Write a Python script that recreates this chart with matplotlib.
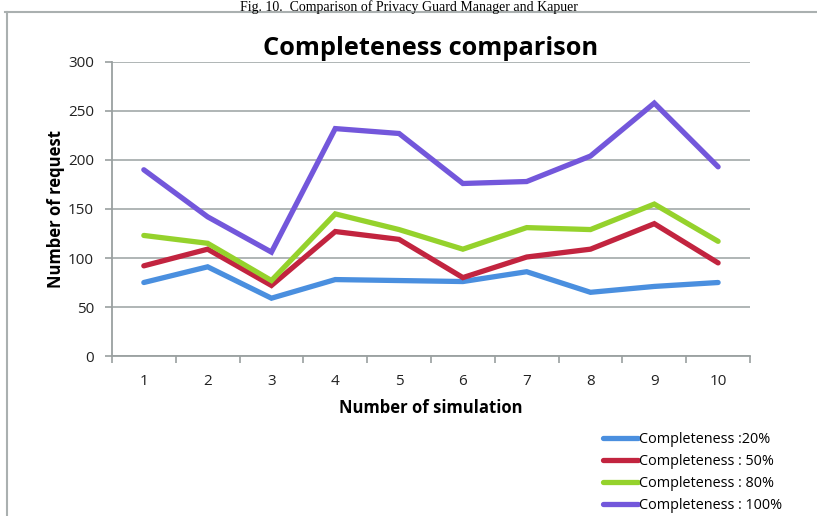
import matplotlib.pyplot as plt
from matplotlib.lines import Line2D

# Data
simulations = [1, 2, 3, 4, 5, 6, 7, 8, 9, 10]
comp_20 = [75, 91, 59, 78, 77, 76, 86, 65, 71, 75]
comp_50 = [92, 109, 72, 127, 119, 80, 101, 109, 135, 95]
comp_80 = [123, 115, 77, 145, 129, 109, 131, 129, 155, 117]
comp_100 = [190, 142, 106, 232, 227, 176, 178, 204, 258, 193]
labels = ['Completeness :20%', 'Completeness : 50%',
          'Completeness : 80%', 'Completeness : 100%']
colors = ['#4a8fdf', '#c2243f', '#95d22c', '#7357db']

fig = plt.figure(figsize=(8.17, 5.16), dpi=100)
ax = fig.add_axes([0.137, 0.31, 0.781, 0.57])

for vals, lab, col in zip([comp_20, comp_50, comp_80, comp_100], labels, colors):
    ax.plot(simulations, vals, color=col, lw=3.8, label=lab,
            solid_capstyle='round', solid_joinstyle='miter')

ax.set_xlim(0.5, 10.5)
ax.set_ylim(0, 300)
ax.set_yticks(range(0, 301, 50))
ax.set_xticks(simulations)
ax.set_xticks([x + 0.5 for x in range(0, 11)], minor=True)
ax.grid(axis='y', color='#a9b0b0', lw=1.3)
ax.set_axisbelow(True)
for s in ['top', 'right']:
    ax.spines[s].set_visible(False)
for s in ['left', 'bottom']:
    ax.spines[s].set_color('#9aa0a0')
    ax.spines[s].set_linewidth(1.3)
ax.tick_params(axis='x', which='major', length=0, pad=13, labelsize=11)
ax.tick_params(axis='x', which='minor', length=5, color='#9aa0a0', width=1.2)
ax.tick_params(axis='y', length=5, color='#9aa0a0', width=1.2, pad=8, labelsize=11)
for t in ax.get_xticklabels() + ax.get_yticklabels():
    t.set_family('Open Sans')
    t.set_color('#222222')

ax.set_title('Completeness comparison', fontsize=18.3, fontweight='bold',
             family='Open Sans', pad=5)
ax.set_xlabel('Number of simulation', fontsize=12, fontweight='bold',
              family='Open Sans', labelpad=7)
ax.set_ylabel('Number of request', fontsize=12, fontweight='bold',
              family='Open Sans', labelpad=2)

leg = fig.legend(loc='upper left', bbox_to_anchor=(0.738, 0.163), frameon=False,
                 prop={'family': 'Open Sans', 'size': 10.4}, handlelength=2.45,
                 handletextpad=0.05, labelspacing=0.48, borderpad=0,
                 borderaxespad=0)

# caption at the very top and the frame around the chart
fig.text(0.5, 0.999, 'Fig. 10.  Comparison of Privacy Guard Manager and Kapuer',
         ha='center', va='top', fontsize=10, family='Liberation Serif')
fig.add_artist(Line2D([0.006, 1.0], [0.976, 0.976], color='#aab0b0', lw=1.5))
fig.add_artist(Line2D([0.008, 0.008], [0.0, 0.976], color='#aab0b0', lw=1.5))

fig.savefig('out.png', dpi=100)
